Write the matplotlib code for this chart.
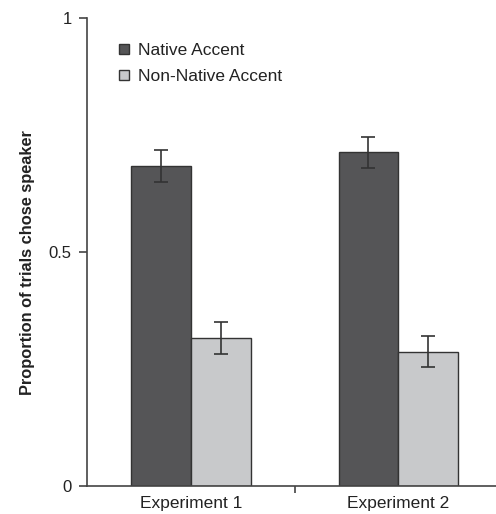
import matplotlib.pyplot as plt
from matplotlib.patches import Patch
import numpy as np

plt.rcParams['font.family'] = ['Liberation Sans', 'DejaVu Sans']

experiments = ["Experiment 1", "Experiment 2"]
native = [0.684, 0.713]
native_err = [0.035, 0.033]
nonnative = [0.317, 0.287]
nonnative_err = [0.034, 0.033]

dark = "#555557"
light = "#c8c9cb"
edge = "#333333"

fig = plt.figure(figsize=(4.96, 5.14), dpi=100)
ax = fig.add_axes([87 / 496, 28 / 514, (496 - 87) / 496, 468 / 514])

x = np.arange(len(experiments))
w = 0.288
err_kw = dict(ecolor="#333333", elinewidth=1.2, capsize=5, capthick=1.2)
ax.bar(x - w / 2, native, w, yerr=native_err, color=dark, edgecolor=edge,
       linewidth=1, error_kw=err_kw, label="Native Accent")
ax.bar(x + w / 2, nonnative, w, yerr=nonnative_err, color=light, edgecolor=edge,
       linewidth=1, error_kw=err_kw, label="Non-Native Accent")

ax.set_xlim(-0.5, 1.471)
ax.set_ylim(0, 1)

for s in ["top", "right"]:
    ax.spines[s].set_visible(False)
for s in ["left", "bottom"]:
    ax.spines[s].set_color("#444444")
    ax.spines[s].set_linewidth(1.2)

ax.set_yticks([0, 0.5, 1])
ax.set_yticklabels(["0", "0.5", "1"])
ax.tick_params(axis="y", length=6, width=1.2, color="#444444", labelsize=12, pad=5,
               labelcolor="#222222")

ax.set_xticks(x)
ax.set_xticklabels(experiments)
ax.tick_params(axis="x", which="major", length=0, labelsize=12.5, pad=7,
               labelcolor="#222222")
ax.set_xticks([0.5], minor=True)
ax.tick_params(axis="x", which="minor", length=5, width=1.2, color="#444444")

ax.set_ylabel("Proportion of trials chose speaker", fontsize=11.8, fontweight="bold",
              color="#222222")
ax.yaxis.set_label_coords(-0.128, 0.477)

handles = [Patch(facecolor=dark, edgecolor=edge, label="Native Accent"),
           Patch(facecolor=light, edgecolor=edge, label="Non-Native Accent")]
ax.legend(handles=handles, loc="upper left", bbox_to_anchor=(0.04, 0.98),
          frameon=False, fontsize=12.5, handlelength=0.55, handleheight=0.55,
          handletextpad=0.55, labelspacing=0.65, labelcolor="#222222")

fig.savefig("out.png", dpi=100)
